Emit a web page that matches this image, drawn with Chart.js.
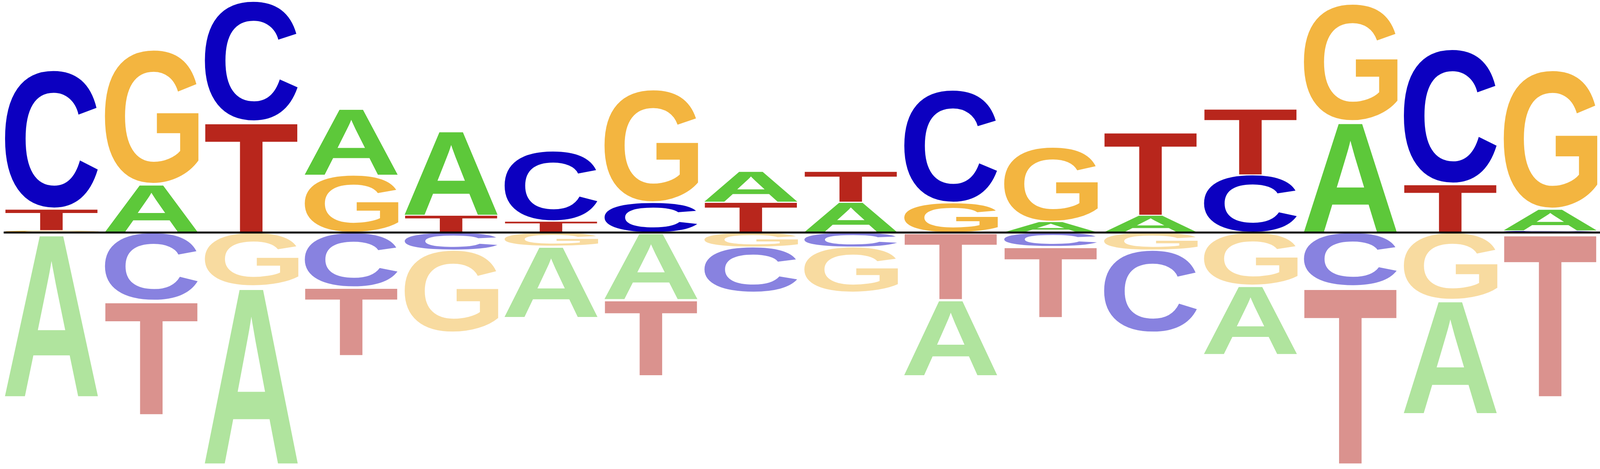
<!DOCTYPE html>
<html>
<head>
<meta charset="utf-8">
<script src="https://cdn.jsdelivr.net/npm/chart.js@4.4.1/dist/chart.umd.min.js"></script>
<style>
  html, body { margin: 0; padding: 0; background: #ffffff; overflow: hidden; }
  .chart-container { width: 100vw; height: 100vh; position: relative; }
</style>
</head>
<body>
<div class="chart-container"><canvas id="logo"></canvas></div>
<script>
// motif positions and letter heights (positive = above the line, negative = below)
const positions = ['1', '2', '3', '4', '5', '6', '7', '8', '9', '10', '11', '12', '13', '14', '15', '16'];
const letters = ['A', 'C', 'G', 'T'];

const heightA = [-1.41, 0.415, -1.53, 0.575, 0.73, -0.613, -0.575, 0.267, 0.263, -0.655, 0.094, 0.15, -0.593, 0.956, -0.979, 0.186];
const heightC = [1.197, -0.585, 1.04, -0.469, -0.15, 0.605, 0.258, -0.39, -0.124, 0.974, -0.119, -0.71, 0.497, -0.459, 1.162, 0.016];
const heightG = [0.018, 1.16, -0.459, 0.495, -0.71, -0.116, 0.974, -0.124, -0.39, 0.255, 0.642, -0.15, -0.454, 1.013, -0.577, 1.197];
const heightT = [0.185, -0.98, 0.954, -0.588, 0.15, 0.098, -0.655, 0.263, 0.267, -0.575, -0.611, 0.72, 0.575, -1.53, 0.418, -1.41];

const heights = { A: heightA, C: heightC, G: heightG, T: heightT };

const solidColors = { A: '#5dc83a', C: '#0c00c0', G: '#f3b540', T: '#b8261c' };
const fadedColors = { A: '#b0e49e', C: '#8882e0', G: '#f8dba0', T: '#da928e' };

// stack each column: smallest letter next to the line, largest furthest out
const ranges = { A: [], C: [], G: [], T: [] };
positions.forEach((p, i) => {
  const up = letters.filter((l) => heights[l][i] > 0).sort((a, b) => heights[a][i] - heights[b][i]);
  const down = letters.filter((l) => heights[l][i] < 0).sort((a, b) => heights[b][i] - heights[a][i]);
  let cum = 0;
  up.forEach((l) => {
    ranges[l][i] = [cum, cum + heights[l][i]];
    cum += heights[l][i];
  });
  cum = 0;
  down.forEach((l) => {
    ranges[l][i] = [cum + heights[l][i], cum];
    cum += heights[l][i];
  });
  letters.forEach((l) => {
    if (!ranges[l][i]) ranges[l][i] = null;
  });
});

function drawGlyph(ctx, ch, x, y, w, h, color) {
  ctx.save();
  ctx.font = 'bold 400px "Liberation Sans", Arial, sans-serif';
  ctx.textAlign = 'left';
  ctx.textBaseline = 'alphabetic';
  const m = ctx.measureText(ch);
  const gw = m.actualBoundingBoxLeft + m.actualBoundingBoxRight;
  const gh = m.actualBoundingBoxAscent + m.actualBoundingBoxDescent;
  ctx.translate(x, y);
  ctx.scale(w / gw, h / gh);
  ctx.fillStyle = color;
  ctx.fillText(ch, m.actualBoundingBoxLeft, m.actualBoundingBoxAscent);
  ctx.restore();
}

const glyphPlugin = {
  id: 'glyphs',
  afterDatasetsDraw(chart) {
    const ctx = chart.ctx;
    let left = Infinity;
    chart.data.datasets.forEach((ds, di) => {
      const meta = chart.getDatasetMeta(di);
      meta.data.forEach((bar, i) => {
        const v = heights[ds.label][i];
        if (!v) return;
        const { x, y, base, width } = bar.getProps(['x', 'y', 'base', 'width'], true);
        const top = Math.min(y, base) + 0.75;
        const bottom = Math.max(y, base) - 0.75;
        left = Math.min(left, x - width / 2);
        if (bottom - top < 0.5) return;
        drawGlyph(ctx, ds.label, x - width / 2, top, width, bottom - top,
          v > 0 ? solidColors[ds.label] : fadedColors[ds.label]);
      });
    });

    // zero line
    const y0 = chart.scales.y.getPixelForValue(0);
    ctx.save();
    ctx.fillStyle = '#000000';
    ctx.fillRect(left, y0 - 2.5, chart.width - left, 5);
    ctx.restore();
  }
};

new Chart(document.getElementById('logo').getContext('2d'), {
  type: 'bar',
  data: {
    labels: positions,
    datasets: letters.map((l) => ({
      label: l,
      data: ranges[l],
      backgroundColor: 'rgba(0, 0, 0, 0)',
      borderWidth: 0,
      grouped: false,
      barPercentage: 0.953,
      categoryPercentage: 1.0,
    })),
  },
  options: {
    responsive: true,
    maintainAspectRatio: false,
    devicePixelRatio: 1,
    animation: false,
    layout: {
      padding: (ctx) => ({ left: ctx.chart.width * 4 / 4800, right: 0, top: 0, bottom: 0 }),
    },
    scales: {
      x: { display: false, grid: { display: false } },
      y: { display: false, min: -2.034, max: 2.0, grid: { display: false } },
    },
    plugins: {
      legend: { display: false },
      tooltip: { enabled: false },
    },
  },
  plugins: [glyphPlugin],
});
</script>
</body>
</html>
